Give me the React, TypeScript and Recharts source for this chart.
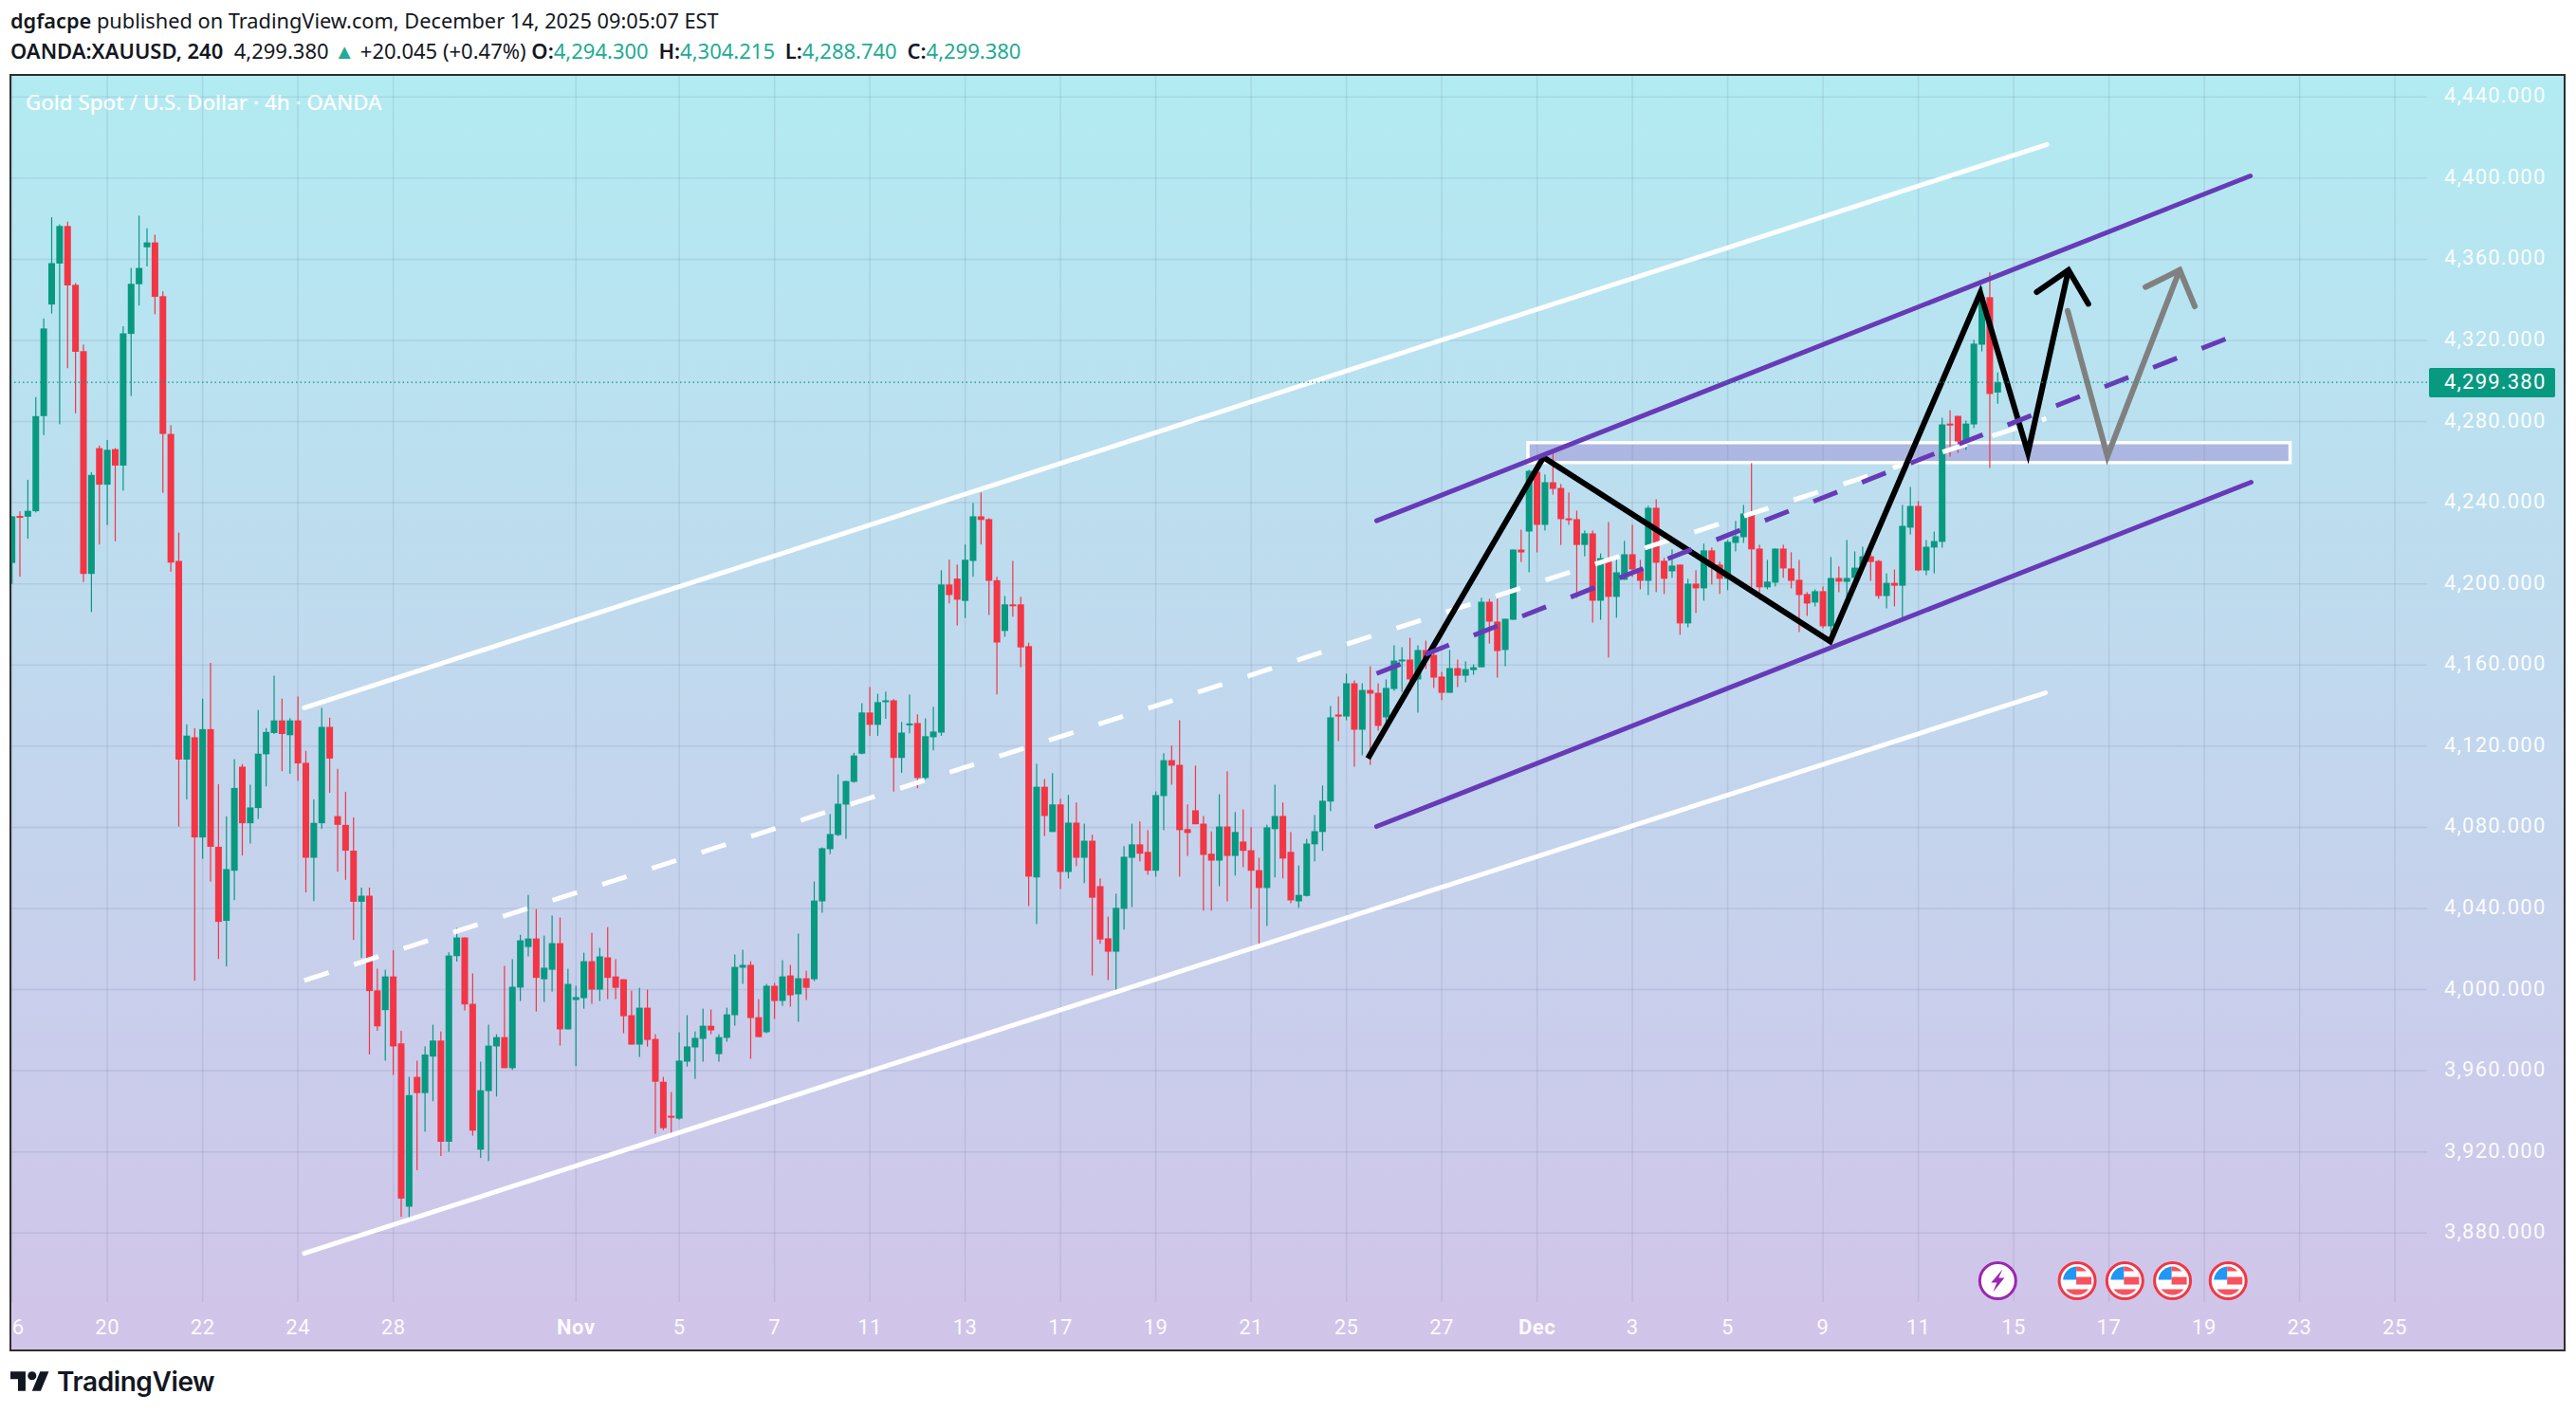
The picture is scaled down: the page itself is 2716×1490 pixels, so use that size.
import { Bar, CartesianGrid, ComposedChart, Line, ReferenceArea, ReferenceDot, ReferenceLine, XAxis, YAxis } from 'recharts';

// 4h candles
const opens = [
  4210.3, 4233.5, 4233.1, 4235.8, 4282.7, 4337.7, 4357.9, 4376.4, 4347.4, 4314.7,
  4204.9, 4266.9, 4248.9, 4266.4, 4258.3, 4323.2, 4347.7, 4365.9, 4368.3, 4341.8,
  4273.9, 4211.3, 4113.4, 4124.4, 4075, 4128.4, 4070.4, 4033.9, 4058.6, 4109.9,
  4082, 4089.5, 4116, 4126.5, 4132.7, 4125.4, 4132.7, 4111.8, 4065, 4082,
  4129.5, 4085.5, 4081.2, 4068.5, 4043.3, 4046.3, 3999.6, 3989.9, 4006.5, 3973.5,
  3893, 3957, 3949, 3967, 3974.9, 3925, 4016.5, 4025.7, 3993, 3921.1,
  3950, 3972, 3976.6, 3961.3, 4001, 4021, 4025.2, 4005.1, 4009.8, 4022.9,
  3980.4, 3994.9, 3995.8, 4014, 4000, 4015.9, 4006.5, 4005.1, 3987.4, 3972.9,
  3991.1, 3975.7, 3954.6, 3937.8, 3936.4, 3964.5, 3971.5, 3975.7, 3982.2, 3968.2,
  3976.2, 3987.4, 4010.8, 4012.2, 3986.4, 3979, 4001.9, 3994.4, 4007, 3997.7,
  4005.6, 4005.1, 4043.5, 4069.2, 4076.2, 4091.2, 4102.4, 4116.3, 4136.6, 4130.5,
  4141.7, 4142.6, 4114.2, 4130.5, 4131.4, 4104.3, 4124.4, 4126.7, 4199.7, 4202.6,
  4191.6, 4211.3, 4233.3, 4231.9, 4201.8, 4176.8, 4189.9, 4189.9, 4169.3, 4055.3,
  4100, 4077.7, 4091.3, 4058, 4082.3, 4065, 4073.4, 4051, 4025.3, 4018.7,
  4039.8, 4065, 4071.6, 4067.9, 4058.6, 4095.4, 4113.1, 4110.8, 4079.1, 4088.4,
  4081.8, 4067, 4063.6, 4080.4, 4065.9, 4073, 4068.7, 4058.9, 4050.1, 4079.1,
  4085.6, 4067.9, 4043.5, 4046.2, 4071.6, 4077.7, 4092.7, 4135.6, 4134.6, 4151,
  4128.1, 4147.7, 4146.3, 4134.2, 4148.2, 4162.2, 4162.7, 4152.9, 4167.4, 4165,
  4154.3, 4146.3, 4158.5, 4154.7, 4157.5, 4158.9, 4191.2, 4181.4, 4167.4, 4182.3,
  4216.9, 4225.8, 4255.2, 4229.1, 4250.1, 4247.3, 4232.3, 4231.9, 4219.2, 4224.9,
  4191.7, 4212.3, 4193.6, 4202, 4214.6, 4207.6, 4201.5, 4237.5, 4211.4, 4206.2,
  4209.5, 4180.5, 4200.1, 4197.8, 4216.5, 4209.5, 4202.5, 4220.2, 4223, 4234.7,
  4217.4, 4198.3, 4200.6, 4217.4, 4207.6, 4202, 4195, 4190.8, 4196.4, 4179.1,
  4202.9, 4201, 4202.9, 4209, 4213.6, 4211.3, 4194, 4200.5, 4199.1, 4227.7,
  4238.4, 4206.6, 4217.9, 4220.7, 4279, 4282.8, 4270.2, 4278.6, 4317.9, 4341.3,
  4294.3,
];
const highs = [
  4233.3, 4235.8, 4251.3, 4292.1, 4330.8, 4380.7, 4377.2, 4378.5, 4348.2, 4317.9,
  4255.1, 4268.2, 4270.9, 4266.9, 4327, 4355.7, 4381.5, 4375.3, 4372.1, 4344.2,
  4278.2, 4225.3, 4130.8, 4128.9, 4143.4, 4161.1, 4101.3, 4085.4, 4113.6, 4111.2,
  4101, 4137.8, 4128.9, 4154.7, 4143.4, 4133.8, 4144.5, 4117.7, 4093.8, 4138.9,
  4134, 4108.8, 4097.5, 4084.9, 4050.3, 4050.3, 4010.3, 4009.8, 4019.4, 3979.7,
  3957, 3965, 3972, 3982.7, 3979.4, 4018.4, 4030.4, 4025.7, 4008, 3964.5,
  3982.7, 3978, 4011.7, 4015, 4027, 4046.7, 4039.7, 4026.6, 4036.5, 4035.5,
  4010.3, 4001.9, 4018.2, 4028, 4020.6, 4030.8, 4015, 4005.1, 3999.5, 4000.9,
  4000, 3978, 3957, 3949.5, 3979, 3987.4, 3979.4, 3990.6, 3990.2, 3978,
  3991.1, 4017.3, 4019.6, 4014, 3995.3, 4002.8, 4003.3, 4014.5, 4012.2, 4027.6,
  4009.3, 4053.3, 4070.1, 4086.5, 4106.1, 4102.9, 4116.7, 4141.2, 4149.2, 4145.8,
  4146.9, 4143.2, 4131.9, 4145.5, 4135.7, 4133.7, 4139.4, 4206.7, 4211.9, 4209.5,
  4219.4, 4239.9, 4245, 4232.4, 4203.5, 4194, 4211.3, 4193.6, 4171, 4111.3,
  4103.8, 4106.7, 4094, 4096, 4092.2, 4081.8, 4076.3, 4054.8, 4036, 4047.3,
  4070.7, 4081.8, 4082.9, 4078.6, 4097.7, 4116.5, 4120.3, 4132.8, 4091.3, 4110.4,
  4085.6, 4078, 4096.3, 4107.6, 4087.5, 4088.8, 4080, 4065, 4081.3, 4101,
  4092.2, 4077.7, 4061.2, 4074.3, 4086.1, 4100.6, 4139.8, 4144.5, 4155.7, 4152.4,
  4151, 4159.4, 4151, 4152.9, 4169.7, 4168.8, 4173.4, 4169.7, 4172, 4168.8,
  4156.6, 4167.4, 4162.7, 4161.8, 4160.3, 4193.1, 4192.6, 4192.6, 4182.8, 4216.9,
  4226.7, 4256.2, 4256.2, 4253.9, 4264.6, 4249.2, 4245, 4236.1, 4226.3, 4226.3,
  4215, 4230.5, 4212.3, 4221.2, 4229.1, 4211.8, 4238.5, 4241.7, 4212.8, 4217,
  4209.5, 4202.5, 4206.7, 4219.8, 4217.9, 4210.9, 4221.6, 4231, 4238.9, 4259.5,
  4219.3, 4211.8, 4217.4, 4219.3, 4215.6, 4211.8, 4195.9, 4197.3, 4198.7, 4213.2,
  4208.6, 4221.6, 4216, 4218.3, 4218.8, 4211.8, 4205.2, 4207.1, 4238.9, 4247.8,
  4240.8, 4221.6, 4225.8, 4281.9, 4285.6, 4282.8, 4280.5, 4320.3, 4346.4, 4353.5,
  4304.215,
];
const lows = [
  4200, 4203.5, 4222.3, 4235.2, 4273.3, 4333.2, 4278.7, 4306.3, 4284.1, 4200.9,
  4186.1, 4219.4, 4229, 4221, 4246, 4292.6, 4337.2, 4356.5, 4332.9, 4244.9,
  4206, 4080.4, 4093.8, 4004.4, 4064.5, 4053.2, 4015.1, 4011.4, 4044.1, 4066.1,
  4072, 4084.1, 4100.2, 4126, 4107.7, 4106.4, 4102.9, 4047.9, 4043.6, 4079.3,
  4097, 4058.1, 4054.1, 4024.5, 4015.7, 3968, 3979.7, 3965, 3958, 3888,
  3886, 3911, 3930, 3945, 3918, 3920, 4013.8, 3989.7, 3928, 3917,
  3915.5, 3947.3, 3961.3, 3960.4, 3994.4, 4016.4, 3989.2, 3993.9, 3999, 3972.4,
  3980.4, 3962.3, 3990.6, 3993, 3994.4, 3995.3, 3995.3, 3978.5, 3972.9, 3966.8,
  3971.9, 3928.9, 3930.8, 3929.4, 3935.9, 3962.1, 3956, 3964.5, 3978, 3964.5,
  3974.3, 3982.2, 4002.8, 3965.9, 3976.6, 3978.5, 3985.5, 3992, 3991.6, 3984.1,
  3994.9, 4004.2, 4037.9, 4066.8, 4075.7, 4074.3, 4102, 4116, 4125.1, 4125.1,
  4133.5, 4097.6, 4106.9, 4126.3, 4099.3, 4103.6, 4117.9, 4125.1, 4190.4, 4179.5,
  4183.2, 4203.5, 4219.4, 4184.7, 4145.5, 4173.9, 4183.8, 4158.9, 4041.2, 4032.3,
  4075.7, 4077.7, 4049.6, 4054.8, 4060.9, 4052.5, 4007, 4022.6, 4004.7, 3998.3,
  4029.6, 4040.7, 4063.2, 4056.6, 4055.7, 4078.6, 4101, 4055.7, 4065.9, 4081.5,
  4038.9, 4038.9, 4051, 4043.5, 4056.2, 4060.3, 4039.8, 4022.4, 4031.4, 4055.3,
  4054.8, 4042.6, 4040.3, 4045.9, 4063.2, 4068.4, 4088, 4122.5, 4132.8, 4109.9,
  4115.5, 4110.8, 4127.6, 4130, 4147.3, 4146.8, 4148.7, 4136.5, 4158, 4148.7,
  4142.7, 4146.3, 4149.1, 4151.5, 4155.2, 4158.9, 4170.6, 4153.8, 4159.4, 4182.3,
  4210.8, 4205.7, 4215.5, 4226.3, 4244, 4219.2, 4229.1, 4193.1, 4213.6, 4180.9,
  4182.3, 4163.7, 4183.3, 4202, 4203.4, 4197.3, 4194.5, 4195.9, 4195, 4203,
  4174.9, 4178.6, 4185.6, 4191.7, 4199.7, 4195, 4196.9, 4216, 4220.2, 4198.3,
  4192.2, 4197.3, 4198.7, 4203, 4197.8, 4176.3, 4184.2, 4188.9, 4178.2, 4170.7,
  4195.9, 4189.3, 4201, 4207.1, 4201.5, 4192.6, 4187.9, 4188.9, 4181.9, 4224.4,
  4206.2, 4204.3, 4205.2, 4217.9, 4262.7, 4264.6, 4266, 4276.8, 4314.6, 4257.1,
  4288.74,
];
const closes = [
  4233.3, 4233, 4236, 4282.7, 4325.9, 4358.1, 4376.4, 4347.1, 4314.4, 4204.9,
  4253.7, 4248.9, 4266.1, 4258.3, 4323.5, 4347.9, 4355.7, 4368.3, 4341.5, 4273.9,
  4210.5, 4113.4, 4125.2, 4075, 4128.4, 4070.4, 4033.4, 4059.4, 4099.4, 4082,
  4089.8, 4116.3, 4127, 4132.7, 4126, 4132.7, 4111.5, 4065, 4082.2, 4129.5,
  4113.9, 4081.2, 4068.5, 4043.3, 4046.3, 3999.3, 3981.9, 4006.5, 3972, 3897,
  3948, 3949, 3968, 3974.9, 3925, 4016.8, 4025.7, 3992.7, 3930.5, 3950.4,
  3972.4, 3976.6, 3961.3, 4001.4, 4024.3, 4025.2, 4005.8, 4010.8, 4022.9, 3980.4,
  4002.8, 3996.3, 4014, 4000, 4016.4, 4005.8, 4000.9, 3986.9, 3972.9, 3991.1,
  3975.2, 3954.6, 3931.7, 3936.9, 3965, 3972, 3976.2, 3982.2, 3979.9, 3976.6,
  3987.8, 4011.2, 4012.2, 3986, 3976.6, 4001.9, 3994.4, 4006.5, 3997.2, 4005.6,
  4000.9, 4043.9, 4069.7, 4076.7, 4091.6, 4102.8, 4115.4, 4136.6, 4130.5, 4141.7,
  4142.6, 4114.2, 4126.7, 4131.2, 4104.3, 4124.9, 4127.2, 4199.7, 4194.5, 4192.2,
  4211.9, 4233.3, 4231.5, 4201.5, 4171.1, 4189.9, 4189.5, 4168.7, 4055.7, 4100,
  4085.6, 4091.3, 4058, 4082.3, 4065, 4073.4, 4045.3, 4024.7, 4018.7, 4040.3,
  4065.5, 4071.6, 4067, 4058.6, 4095.9, 4113.1, 4110.4, 4078.6, 4077.2, 4081.5,
  4066.4, 4063.6, 4080.4, 4065.9, 4077.7, 4068.4, 4058.6, 4050.1, 4080, 4085.6,
  4064.6, 4044, 4046.7, 4072, 4078.1, 4093.1, 4134.2, 4134.6, 4151, 4128.1,
  4147.7, 4145.9, 4130, 4148.7, 4162.2, 4162.7, 4152.9, 4167.4, 4163.2, 4153.8,
  4146.3, 4158.5, 4154.7, 4158, 4158.9, 4191.2, 4181.4, 4166.9, 4182.8, 4216.9,
  4215.5, 4255.7, 4229.1, 4250.1, 4246.8, 4231.9, 4231.9, 4219.2, 4224.9, 4191.7,
  4212.7, 4193.6, 4205.7, 4214.6, 4207.1, 4201.5, 4237.5, 4210.4, 4202.5, 4209,
  4180.5, 4200.1, 4197.8, 4216.5, 4208.1, 4202.5, 4220.7, 4223.5, 4234.7, 4217,
  4198.3, 4201.1, 4217.4, 4207.6, 4201.5, 4194.5, 4190.3, 4196.4, 4179.1, 4202.9,
  4201.1, 4202.9, 4208, 4213.6, 4210.8, 4194, 4200.5, 4199.1, 4228.6, 4238.4,
  4206.6, 4218.3, 4221.1, 4278.6, 4278.2, 4270.2, 4279, 4318.4, 4341.3, 4293.6,
  4299.38,
];

const priceTicks = [3880, 3920, 3960, 4000, 4040, 4080, 4120, 4160, 4200, 4240, 4280, 4320, 4360, 4400, 4440];
const timeTicks = [0, 12, 24, 36, 48, 71, 84, 96, 108, 120, 132, 144, 156, 168, 180, 192, 204, 216, 228, 240, 252, 264, 276, 288, 300];
const timeLabels = ['16', '20', '22', '24', '28', 'Nov', '5', '7', '11', '13', '17', '19', '21', '25', '27', 'Dec', '3', '5', '9', '11', '15', '17', '19', '23', '25'];

// drawings, as [candle index, price]
const outerUpper = [[36.8, 4138.9], [256.2, 4416.6]];
const outerMiddle = [[36.8, 4004.5], [256.1, 4281.5]];
const outerLower = [[36.8, 3870], [256, 4146.3]];
const innerUpper = [[171.8, 4231.1], [281.8, 4401.1]];
const innerMiddle = [[171.8, 4155.8], [278.8, 4320.9]];
const innerLower = [[171.8, 4080.4], [281.9, 4250.1]];
const blackPath = [[170.7, 4114], [192.8, 4262.4], [228.9, 4171.7], [247.8, 4343.5], [253.8, 4264.6], [258.9, 4354.7]];
const blackHead = [[254.9, 4343.8], [258.9, 4354.7], [261.4, 4338]];
const grayPath = [[258.8, 4334.6], [263.8, 4262.9], [272.9, 4354.7]];
const grayHead = [[268.6, 4346.3], [272.9, 4354.7], [274.8, 4336.8]];
const zoneX = [190.85, 286.8];
const zoneY = [4259.8, 4269.6];
const flagEvents = [260, 266, 272, 279];
const boltEvent = 250;
const eventPrice = 3856.5;
const lastPrice = 4299.38;

const GREEN = '#089981';
const RED = '#F23645';
const PURPLE = '#673AB7';

const candles = opens.map((o, i) => ({
  i,
  o,
  c: closes[i],
  range: [lows[i], highs[i]],
}));

const pts = (rows: number[][]) => rows.map(([i, p]) => ({ i, p }));

function Candle(props: any) {
  const { x, y, width, height, payload } = props;
  const [low, high] = payload.range;
  const perUnit = height / (high - low);
  const top = y + (high - Math.max(payload.o, payload.c)) * perUnit;
  const bodyH = Math.max(Math.abs(payload.o - payload.c) * perUnit, 2);
  const color = payload.c >= payload.o ? GREEN : RED;
  const mid = x + width / 2;
  return (
    <g>
      <rect x={mid - 0.6} y={y} width={1.2} height={height} fill={color} />
      <rect x={mid - 3.5} y={top} width={7} height={bodyH} fill={color} />
    </g>
  );
}

function TimeTick(props: any) {
  const { x, payload } = props;
  const label = timeLabels[timeTicks.indexOf(payload.value)];
  const bold = label === 'Nov' || label === 'Dec';
  return (
    <text x={x} y={1399} textAnchor="middle" dominantBaseline="central" fill="#fff" fillOpacity={0.95} fontSize={22} letterSpacing={0.6} fontWeight={bold ? 700 : 400} fontFamily="Roboto">
      {label}
    </text>
  );
}

function PriceTick(props: any) {
  const { y, payload } = props;
  return (
    <text x={2577} y={y - 1.5} dominantBaseline="central" fill="#fff" fillOpacity={0.95} fontSize={22} letterSpacing={1.2} fontFamily="Roboto">
      {payload.value.toLocaleString('en-US', { minimumFractionDigits: 3 })}
    </text>
  );
}

function PriceTag(props: any) {
  const { viewBox } = props;
  const right = viewBox.x + viewBox.width;
  return (
    <g>
      <rect x={right + 2} y={viewBox.y - 15} width={133} height={31} rx={2} fill={GREEN} />
      <text x={2577} y={viewBox.y - 1} dominantBaseline="central" fill="#fff" fontSize={22} letterSpacing={1.2} fontFamily="Roboto">
        4,299.380
      </text>
    </g>
  );
}

function FlagIcon(props: any) {
  const { cx, cy } = props;
  return (
    <g>
      <circle cx={cx} cy={cy} r={19} fill="#fff" stroke={RED} strokeWidth={3} />
      <path d={`M${cx - 15} ${cy - 1}A15 15 0 0 1 ${cx - 1} ${cy - 15}V${cy - 1}Z`} fill="#2196F3" />
      <path d={`M${cx - 1} ${cy - 15}A15 15 0 0 1 ${cx + 10} ${cy - 10}H${cx - 1}Z`} fill="#F7525F" />
      <rect x={cx - 1} y={cy - 4} width={16} height={8} fill="#F7525F" />
      <path d={`M${cx - 12} ${cy + 9}H${cx + 12}A15 15 0 0 1 ${cx - 12} ${cy + 9}Z`} fill="#F7525F" />
    </g>
  );
}

function BoltIcon(props: any) {
  const { cx, cy } = props;
  return (
    <g>
      <circle cx={cx} cy={cy} r={19} fill="#fff" stroke="#9C27B0" strokeWidth={3} />
      <path d={`M${cx + 5} ${cy - 12}L${cx - 7} ${cy + 2}H${cx - 1}L${cx - 5} ${cy + 12}L${cx + 7} ${cy - 3}H${cx + 1}Z`} fill="#9C27B0" />
    </g>
  );
}

const teal = { color: '#22AB94' };
const boldLabel = { fontWeight: 600 };
const gapped = { fontWeight: 600, marginLeft: 5 };

export default function App() {
  return (
    <div style={{ position: 'absolute', left: 0, top: 0, width: 2716, height: 1490, background: '#fff', overflow: 'hidden' }}>
      <div style={{ position: 'absolute', left: 11, top: 7, fontFamily: 'Noto Sans', fontSize: 21.75, lineHeight: '30px', color: '#131722', whiteSpace: 'nowrap' }}>
        <b style={boldLabel}>dgfacpe</b> published on TradingView.com, December 14, 2025 09:05:07 EST
      </div>
      <div style={{ position: 'absolute', left: 11, top: 38, fontFamily: 'Noto Sans', fontSize: 22, lineHeight: '30px', color: '#131722', whiteSpace: 'nowrap' }}>
        <b style={boldLabel}>OANDA:XAUUSD, 240</b>&nbsp; 4,299.380 <span style={teal}>▲</span> +20.045 (+0.47%) <b style={boldLabel}>O:</b><span style={teal}>4,294.300</span> <b style={gapped}>H:</b><span style={teal}>4,304.215</span> <b style={gapped}>L:</b><span style={teal}>4,288.740</span> <b style={gapped}>C:</b><span style={teal}>4,299.380</span>
      </div>

      <div style={{ position: 'absolute', left: 10, top: 78, width: 2695, height: 1347, boxSizing: 'border-box', border: '2.5px solid #2E2E2E', background: 'linear-gradient(180deg, #B2EBF2 0%, #D1C4E9 100%)' }} />
      <div style={{ position: 'absolute', left: 27, top: 93, fontFamily: 'Noto Sans', fontWeight: 500, fontSize: 22.3, lineHeight: '30px', color: '#fff', whiteSpace: 'nowrap' }}>
        Gold Spot / U.S. Dollar · 4h · OANDA
      </div>

      <div style={{ position: 'absolute', left: 0, top: 0 }}>
        <ComposedChart width={2716} height={1490} data={candles} margin={{ top: 80, right: 13, bottom: 67, left: 12 }}>
          <CartesianGrid stroke="#5A6A8C" strokeOpacity={0.14} strokeWidth={1.5} horizontalValues={priceTicks} verticalValues={timeTicks} />
          <XAxis
            dataKey="i"
            type="number"
            domain={[-0.08, 304.05]}
            ticks={timeTicks}
            interval={0}
            axisLine={false}
            tickLine={false}
            height={50}
            tick={<TimeTick />}
            allowDataOverflow
          />
          <YAxis
            orientation="right"
            type="number"
            domain={[3846, 4450.4]}
            ticks={priceTicks}
            interval={0}
            axisLine={false}
            tickLine={false}
            width={144}
            tick={<PriceTick />}
            allowDataOverflow
          />
          <Line data={pts(outerUpper)} dataKey="p" stroke="#fff" strokeWidth={5} strokeLinecap="round" dot={false} isAnimationActive={false} />
          <Line data={pts(outerMiddle)} dataKey="p" stroke="#fff" strokeWidth={5} strokeDasharray="27 28" dot={false} isAnimationActive={false} />
          <Line data={pts(outerLower)} dataKey="p" stroke="#fff" strokeWidth={5} strokeLinecap="round" dot={false} isAnimationActive={false} />
          <Line data={pts(blackPath)} dataKey="p" stroke="#000" strokeWidth={6} strokeLinejoin="miter" dot={false} isAnimationActive={false} />
          <Line data={pts(blackHead)} dataKey="p" stroke="#000" strokeWidth={6} strokeLinecap="round" dot={false} isAnimationActive={false} />
          <Line data={pts(grayPath)} dataKey="p" stroke="#808080" strokeWidth={6} strokeLinecap="round" dot={false} isAnimationActive={false} />
          <Line data={pts(grayHead)} dataKey="p" stroke="#808080" strokeWidth={6} strokeLinecap="round" dot={false} isAnimationActive={false} />
          <ReferenceArea x1={zoneX[0]} x2={zoneX[1]} y1={zoneY[0]} y2={zoneY[1]} fill="rgb(140,90,195)" fillOpacity={0.3} stroke="#fff" strokeWidth={3.5} strokeOpacity={1} ifOverflow="visible" />
          <Line data={pts(innerUpper)} dataKey="p" stroke={PURPLE} strokeWidth={5} strokeLinecap="round" dot={false} isAnimationActive={false} />
          <Line data={pts(innerMiddle)} dataKey="p" stroke={PURPLE} strokeWidth={5} strokeDasharray="27 28" dot={false} isAnimationActive={false} />
          <Line data={pts(innerLower)} dataKey="p" stroke={PURPLE} strokeWidth={5} strokeLinecap="round" dot={false} isAnimationActive={false} />
          <ReferenceLine y={lastPrice} stroke={GREEN} strokeDasharray="1.5 3" strokeWidth={1.2} label={<PriceTag />} />
          <Bar dataKey="range" barSize={7} shape={<Candle />} isAnimationActive={false} />
          {flagEvents.map((i) => (
            <ReferenceDot key={i} x={i} y={eventPrice} r={19} shape={<FlagIcon />} ifOverflow="visible" />
          ))}
          <ReferenceDot x={boltEvent} y={eventPrice} r={19} shape={<BoltIcon />} ifOverflow="visible" />
        </ComposedChart>
      </div>

      <svg style={{ position: 'absolute', left: 11, top: 1446 }} width={41} height={21} viewBox="0 4 36 18">
        <path d="M14 22H7V11H0V4h14v18zM28 22h-8l7.5-18h8L28 22z" fill="#131722" />
        <circle cx={20} cy={8} r={4} fill="#131722" />
      </svg>
      <div style={{ position: 'absolute', left: 60, top: 1438, fontFamily: 'Inter', fontWeight: 600, fontSize: 28, lineHeight: '38px', letterSpacing: -0.4, color: '#131722', whiteSpace: 'nowrap' }}>
        TradingView
      </div>
    </div>
  );
}
